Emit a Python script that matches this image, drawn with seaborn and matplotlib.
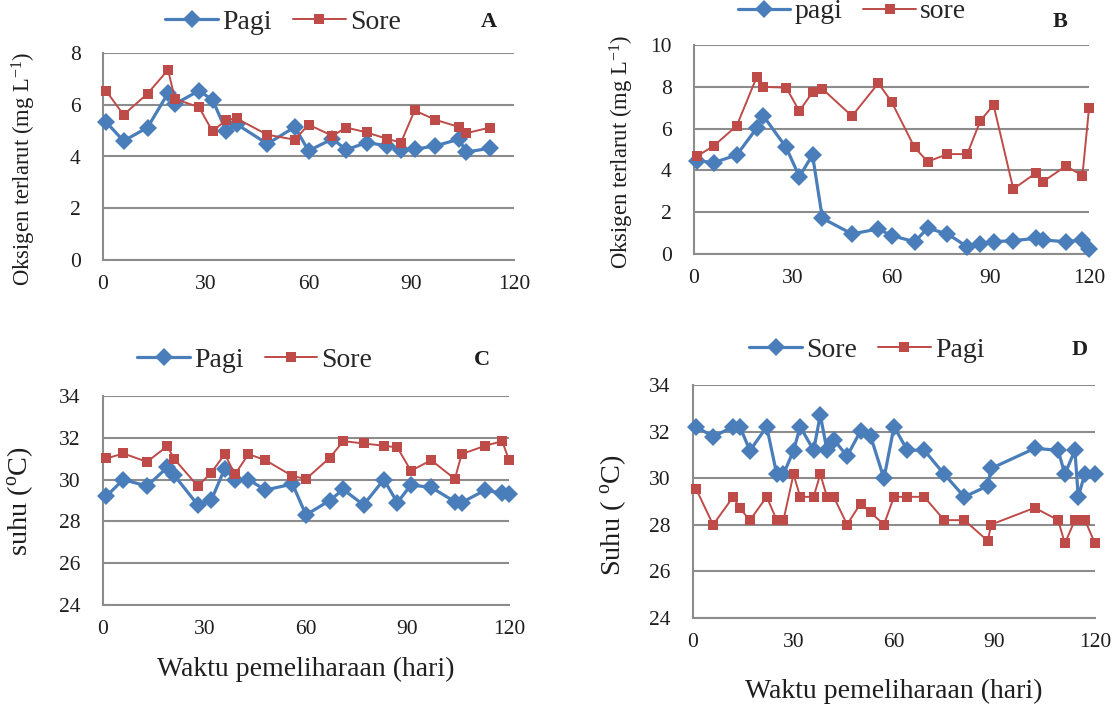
import matplotlib
matplotlib.use("Agg")
import matplotlib.pyplot as plt
import seaborn as sns
import pandas as pd

# ---------------- data ----------------
# Panel A: dissolved oxygen (mg/L)
a_days = [1, 6, 13, 19, 21, 28, 32, 36, 39, 48, 56, 60, 67, 71, 77, 83, 87, 91, 97, 104, 106, 113]
a_pagi = [5.32, 4.6, 5.12, 6.45, 6.03, 6.54, 6.19, 4.97, 5.25, 4.49, 5.14, 4.22,
          4.68, 4.26, 4.54, 4.41, 4.26, 4.28, 4.41, 4.67, 4.17, 4.32]
a_sore = [6.52, 5.61, 6.43, 7.35, 6.22, 5.91, 4.97, 5.42, 5.47, 4.84, 4.65, 5.23,
          4.8, 5.12, 4.93, 4.68, 4.54, 5.78, 5.42, 5.14, 4.9, 5.12]

# Panel B: dissolved oxygen (mg/L)
b_days = [1, 6, 13, 19, 21, 28, 32, 36, 39, 48, 56, 60, 67, 71, 77, 83, 87, 91, 97, 104, 106, 113, 118, 120]
b_pagi = [4.47, 4.37, 4.74, 6.01, 6.62, 5.1, 3.7, 4.74, 1.71, 0.96, 1.2, 0.88,
          0.59, 1.23, 0.96, 0.35, 0.48, 0.59, 0.64, 0.75, 0.67, 0.59, 0.67, 0.22]
b_sore = [4.69, 5.17, 6.14, 8.45, 8.0, 7.96, 6.84, 7.74, 7.9, 6.6, 8.17, 7.29,
          5.1, 4.42, 4.78, 4.78, 6.38, 7.13, 3.11, 3.89, 3.46, 4.21, 3.75, 6.97]

# Panel C: temperature (oC)
c_days = [1, 6, 13, 19, 21, 28, 32, 36, 39, 43, 48, 56, 60, 67, 71, 77, 83, 87, 91, 97, 104, 106, 113, 118, 120]
c_pagi = [29.21, 30.0, 29.69, 30.58, 30.22, 28.79, 29.02, 30.53, 29.98, 30.0, 29.5, 29.79, 28.31,
          29.0, 29.53, 28.79, 30.0, 28.9, 29.74, 29.63, 28.94, 28.9, 29.5, 29.34, 29.29]
c_sore = [31.01, 31.25, 30.85, 31.6, 31.0, 29.69, 30.33, 31.22, 30.25, 31.22, 30.93, 30.17, 30.03,
          31.04, 31.84, 31.73, 31.62, 31.54, 30.42, 30.93, 30.03, 31.22, 31.62, 31.84, 30.93]

# Panel D: temperature (oC)
d_days = [1, 6, 12, 14, 17, 22, 25, 27, 30, 32, 36, 38, 40, 42, 46, 50, 53, 57, 60,
          64, 69, 75, 81, 88, 89, 102, 109, 111, 114, 115, 117, 120]
d_sore = [32.21, 31.78, 32.21, 32.21, 31.18, 32.21, 30.17, 30.17, 31.18, 32.21, 31.2, 32.71, 31.2,
          31.66, 30.95, 32.02, 31.81, 29.99, 32.21, 31.2, 31.2, 30.17, 29.2, 29.67, 30.42,
          31.28, 31.2, 30.17, 31.2, 29.2, 30.2, 30.17]
d_pagi = [29.52, 28.0, 29.2, 28.7, 28.2, 29.2, 28.2, 28.2, 30.17, 29.2, 29.2, 30.17, 29.2,
          29.2, 28.01, 28.91, 28.53, 28.01, 29.2, 29.2, 29.2, 28.2, 28.2, 27.31, 28.01,
          28.73, 28.2, 27.2, 28.2, 28.2, 28.2, 27.2]

x_ticks = [0, 30, 60, 90, 120]
do_a_ticks = [0, 2, 4, 6, 8]
do_b_ticks = [0, 2, 4, 6, 8, 10]
temp_ticks = [24, 26, 28, 30, 32, 34]

# ---------------- style ----------------
sns.set_style("white")
plt.rcParams["font.family"] = ["Liberation Serif", "DejaVu Serif"]
plt.rcParams["mathtext.fontset"] = "custom"
plt.rcParams["mathtext.rm"] = "Liberation Serif"
plt.rcParams["mathtext.it"] = "Liberation Serif:italic"

BLUE = "#4A7EBB"
RED = "#BE4B48"
GRID = "#8C8C8C"
TXT = "#1e1e1e"

W, H = 1115, 708
fig = plt.figure(figsize=(W / 100, H / 100), dpi=100)


def px_axes(left, top, right, bottom):
    return fig.add_axes([left / W, (H - bottom) / H, (right - left) / W, (bottom - top) / H])


def draw_series(ax, days, vals, color, marker, label, ms, lw):
    df = pd.DataFrame({"x": days, "y": vals})
    sns.lineplot(data=df, x="x", y="y", ax=ax, color=color, marker=marker,
                 markersize=ms, linewidth=lw, markeredgewidth=0, sort=False,
                 label=label, zorder=3, clip_on=False)


def style_axes(ax, yticks, ylabel, ylab_size, ylab_xy, letter, letter_pos, leg_pos):
    ax.set_xlim(0, 120)
    ax.set_ylim(yticks[0], yticks[-1])
    ax.set_xticks(x_ticks)
    ax.set_yticks(yticks)
    ax.yaxis.grid(True, color=GRID, linewidth=1.5)
    ax.set_axisbelow(True)
    for s in ["top", "right"]:
        ax.spines[s].set_visible(False)
    for s in ["left", "bottom"]:
        ax.spines[s].set_color(GRID)
        ax.spines[s].set_linewidth(1.5)
    ax.tick_params(axis="both", which="both", direction="out", length=5, width=1.3,
                   color=GRID, labelsize=15.5, labelcolor=TXT)
    ax.tick_params(axis="y", pad=11)
    ax.tick_params(axis="x", pad=6)
    ax.set_xlabel("")
    ax.set_ylabel(ylabel, fontsize=ylab_size, color=TXT)
    ax.yaxis.set_label_coords(*ylab_xy)
    ax.text(letter_pos[0], letter_pos[1], letter, transform=ax.transAxes,
            fontsize=16, fontweight="bold", ha="center", va="center", color=TXT)
    ax.legend(loc="center", bbox_to_anchor=leg_pos, ncol=2, frameon=False,
              fontsize=20, handlelength=1.9, columnspacing=0.75, handletextpad=0.15,
              borderaxespad=0)


# Panel A
axA = px_axes(103, 53, 514, 260)
draw_series(axA, a_days, a_pagi, BLUE, "D", "Pagi", 9, 2.3)
draw_series(axA, a_days, a_sore, RED, "s", "Sore", 7, 1.4)
style_axes(axA, do_a_ticks, r"Oksigen terlarut (mg L$^{\mathrm{-1}}$)", 16.3, (-0.158, 0.44),
           "A", (0.94, 1.15), (0.438, 1.15))

# Panel B
axB = px_axes(694, 45, 1089, 254)
draw_series(axB, b_days, b_pagi, BLUE, "D", "pagi", 9, 2.3)
draw_series(axB, b_days, b_sore, RED, "s", "sore", 7, 1.4)
style_axes(axB, do_b_ticks, r"Oksigen terlarut (mg L$^{\mathrm{-1}}$)", 16.3, (-0.147, 0.49),
           "B", (0.927, 1.11), (0.40, 1.16))

# Panel C
axC = px_axes(103, 396, 509, 605)
draw_series(axC, c_days, c_pagi, BLUE, "D", "Pagi", 9, 2.3)
draw_series(axC, c_days, c_sore, RED, "s", "Sore", 7, 1.4)
style_axes(axC, temp_ticks, r"suhu ($^{\mathrm{o}}$C)", 20.4, (-0.167, 0.5),
           "C", (0.933, 1.17), (0.374, 1.17))
axC.set_xlabel("Waktu pemeliharaan (hari)", fontsize=20, color=TXT)
axC.xaxis.set_label_coords(0.5, -0.25)

# Panel D
axD = px_axes(693, 385, 1095, 618)
draw_series(axD, d_days, d_sore, BLUE, "D", "Sore", 9, 2.3)
draw_series(axD, d_days, d_pagi, RED, "s", "Pagi", 7, 1.4)
style_axes(axD, temp_ticks, r"Suhu ( $^{\mathrm{o}}$C)", 20.4, (-0.162, 0.44),
           "D", (0.963, 1.15), (0.433, 1.15))
axD.set_xlabel("Waktu pemeliharaan (hari)", fontsize=20, color=TXT)
axD.xaxis.set_label_coords(0.5, -0.262)

fig.savefig("out.png", dpi=100, facecolor="white")
